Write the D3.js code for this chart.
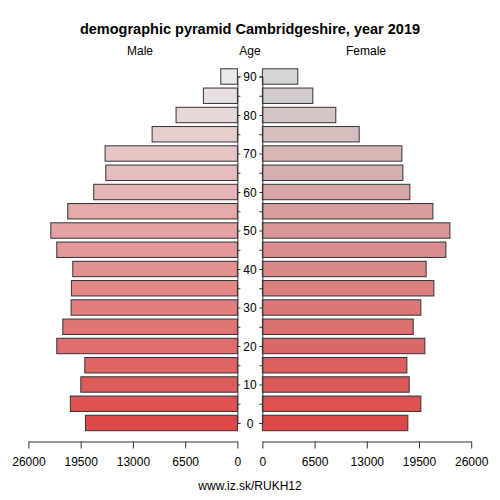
<!DOCTYPE html>
<html><head><meta charset="utf-8">
<script src="https://cdn.jsdelivr.net/npm/d3@7"></script>
<style>body{margin:0;background:#fff}text{font-family:"Liberation Sans",Arial,sans-serif}</style>
</head><body>
<svg id="c" width="500" height="500"></svg>
<script>
const ages = [0,5,10,15,20,25,30,35,40,45,50,55,60,65,70,75,80,85,90];
const male = [18900,20780,19480,18980,22470,21720,20690,20650,20480,22470,23210,21100,17870,16370,16460,10610,7630,4230,2070];
const female = [18110,19730,18280,17990,20230,18780,19730,21350,20390,22850,23350,21230,18360,17490,17370,12050,9140,6280,4410];
const xTicks = [0,6500,13000,19500,26000];
const ageTicks = [0,10,20,30,40,50,60,70,80,90];

const svg = d3.select("#c");
const xm = d3.scaleLinear().domain([0,26000]).range([237.4,28.4]);
const xf = d3.scaleLinear().domain([0,26000]).range([262.4,471.2]);
const y = d3.scaleLinear().domain([0,90]).range([423,76.5]);
const bh = 15.4;
const cm = d3.scaleLinear().domain([0,90]).range(["rgb(221,73,73)","rgb(233,233,233)"]);
const cf = d3.scaleLinear().domain([0,90]).range(["rgb(221,73,73)","rgb(213,213,213)"]);

svg.append("text").attr("x",250).attr("y",34).attr("text-anchor","middle")
  .attr("font-size",14.5).attr("font-weight","bold").text("demographic pyramid Cambridgeshire, year 2019");
svg.append("text").attr("x",140).attr("y",55).attr("text-anchor","middle").attr("font-size",12).text("Male");
svg.append("text").attr("x",250).attr("y",55).attr("text-anchor","middle").attr("font-size",12).text("Age");
svg.append("text").attr("x",366).attr("y",55).attr("text-anchor","middle").attr("font-size",12).text("Female");

svg.append("g").selectAll("rect").data(ages).join("rect")
  .attr("x",(d,i)=>xm(male[i])).attr("y",d=>y(d)-bh/2)
  .attr("width",(d,i)=>xm(0)-xm(male[i])).attr("height",bh)
  .attr("fill",d=>cm(d)).attr("stroke","#333").attr("stroke-width",1);
svg.append("g").selectAll("rect").data(ages).join("rect")
  .attr("x",xf(0)).attr("y",d=>y(d)-bh/2)
  .attr("width",(d,i)=>xf(female[i])-xf(0)).attr("height",bh)
  .attr("fill",d=>cf(d)).attr("stroke","#333").attr("stroke-width",1);

// age axes
const ageL = svg.append("g").attr("transform",`translate(${xm(0)},0)`)
  .call(d3.axisRight(y).tickValues(ages).tickSize(3).tickFormat(""));
const ageR = svg.append("g").attr("transform",`translate(${xf(0)},0)`)
  .call(d3.axisLeft(y).tickValues(ages).tickSize(3).tickFormat(""));
[ageL,ageR].forEach(g=>{g.select(".domain").attr("stroke","#333");g.selectAll(".tick line").attr("stroke","#333");});
svg.append("g").selectAll("text").data(ageTicks).join("text")
  .attr("x",250).attr("y",d=>y(d)+4.5).attr("text-anchor","middle").attr("font-size",12).text(d=>d);

// x axes
const fmt = d3.format("d");
const axM = svg.append("g").attr("transform","translate(0,441.5)")
  .call(d3.axisBottom(xm).tickValues(xTicks).tickFormat(fmt).tickSize(7).tickPadding(9).tickSizeOuter(0));
const axF = svg.append("g").attr("transform","translate(0,441.5)")
  .call(d3.axisBottom(xf).tickValues(xTicks).tickFormat(fmt).tickSize(7).tickPadding(9).tickSizeOuter(0));
[axM,axF].forEach(g=>{
  g.select(".domain").attr("stroke","#333");
  g.selectAll(".tick line").attr("stroke","#333");
  g.selectAll(".tick text").attr("font-size",12).attr("fill","#000").attr("font-family","Liberation Sans, Arial, sans-serif");
});

svg.append("text").attr("x",250).attr("y",490).attr("text-anchor","middle").attr("font-size",12).text("www.iz.sk/RUKH12");
</script>
</body></html>
